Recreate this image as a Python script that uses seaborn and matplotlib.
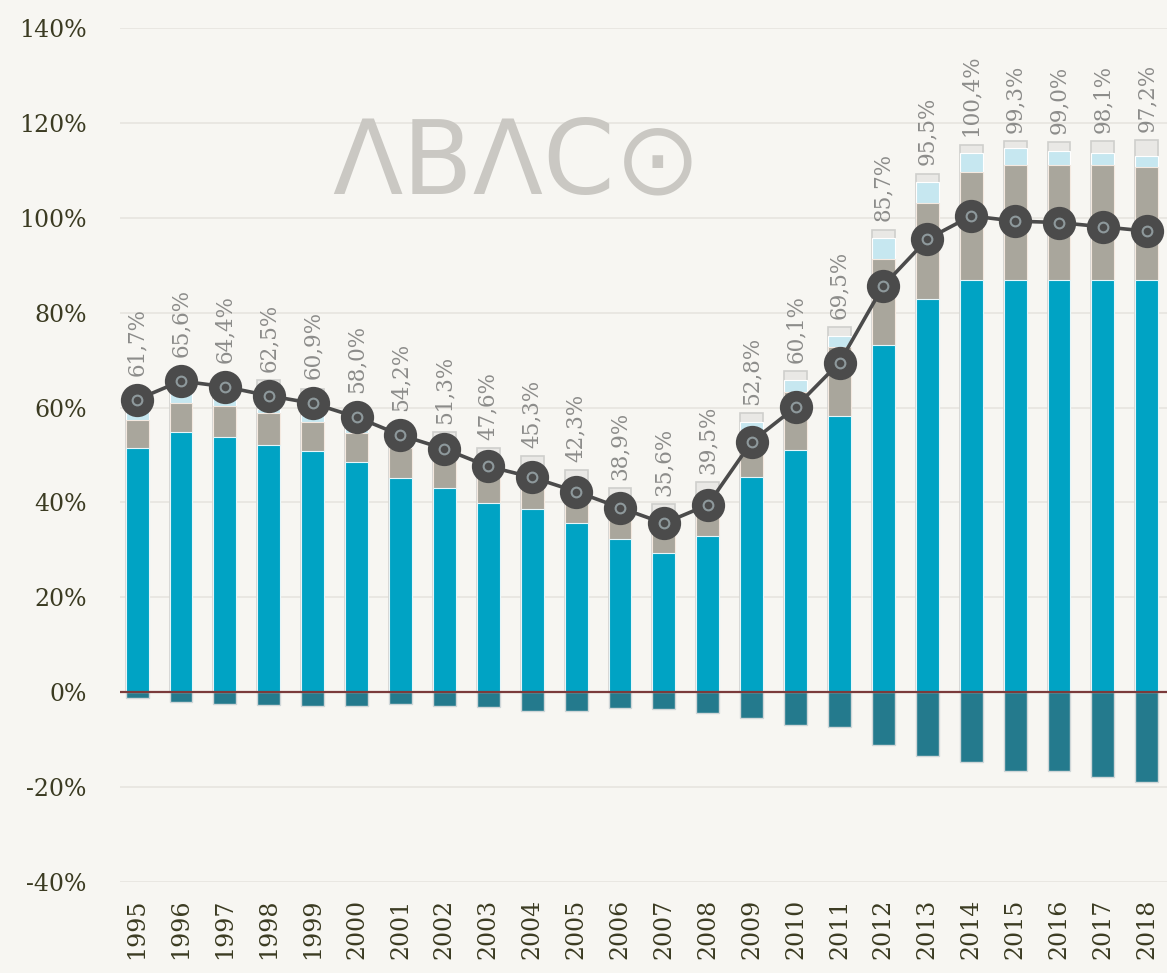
import numpy as np
import pandas as pd
import matplotlib
matplotlib.use("Agg")
import matplotlib.pyplot as plt
import seaborn as sns

# ---------------- data ----------------
years = [str(y) for y in range(1995, 2019)]
line_values = [61.7, 65.6, 64.4, 62.5, 60.9, 58.0, 54.2, 51.3, 47.6, 45.3, 42.3, 38.9,
               35.6, 39.5, 52.8, 60.1, 69.5, 85.7, 95.5, 100.4, 99.3, 99.0, 98.1, 97.2]
line_labels = ["61,7%", "65,6%", "64,4%", "62,5%", "60,9%", "58,0%", "54,2%", "51,3%",
               "47,6%", "45,3%", "42,3%", "38,9%", "35,6%", "39,5%", "52,8%", "60,1%",
               "69,5%", "85,7%", "95,5%", "100,4%", "99,3%", "99,0%", "98,1%", "97,2%"]
seg_blue = [51.5, 54.9, 53.8, 52.1, 50.8, 48.6, 45.1, 43.0, 39.9, 38.6, 35.6, 32.3,
            29.4, 33.0, 45.3, 51.0, 58.3, 73.2, 82.9, 86.9, 86.9, 86.8, 86.8, 86.8]
seg_gray = [5.9, 6.1, 6.6, 6.7, 6.2, 6.0, 6.4, 5.7, 5.7, 6.1, 5.4, 4.7,
            4.2, 5.8, 9.0, 12.3, 14.5, 18.2, 20.3, 22.8, 24.3, 24.4, 24.4, 23.9]
seg_lightblue = [2.6, 2.3, 1.6, 1.0, 1.5, 1.9, 1.5, 1.8, 1.9, 1.8, 2.0, 2.0,
                 1.9, 1.7, 2.7, 2.5, 2.2, 4.4, 4.4, 4.0, 3.6, 2.9, 2.5, 2.3]
seg_lightgray = [1.5, 1.2, 1.0, 6.0, 5.5, 3.5, 2.0, 4.3, 4.0, 3.3, 3.8, 4.0,
                 4.2, 3.8, 1.8, 1.9, 2.0, 1.7, 1.7, 1.7, 1.4, 1.9, 2.5, 3.4]
seg_negative = [-1.3, -2.1, -2.4, -2.7, -2.8, -2.8, -2.4, -2.8, -3.1, -4.0, -4.0, -3.4,
                -3.6, -4.4, -5.5, -7.0, -7.4, -11.2, -13.5, -14.6, -16.7, -16.7, -17.9, -19.0]
ytick_values = [-40, -20, 0, 20, 40, 60, 80, 100, 120, 140]
ytick_labels = ["-40%", "-20%", "0%", "20%", "40%", "60%", "80%", "100%", "120%", "140%"]

# ---------------- style ----------------
BG = "#f7f6f2"
C_BLUE = "#00a3c4"
C_GRAY = "#a9a69c"
C_LBLUE = "#c6e7f0"
C_LGRAY = "#e9e8e5"
C_NEG = "#247a8d"
C_LINE = "#4b4b4b"

sns.set_theme(style="white")
plt.rcParams["font.family"] = ["DejaVu Serif", "DejaVu Sans"]

fig = plt.figure(figsize=(11.67, 9.73), dpi=100, facecolor=BG)
ax = fig.add_axes([0.1028, 0.0935, 0.8972, 0.8777])
ax.set_facecolor(BG)

df = pd.DataFrame({
    "year": years,
    "blue": seg_blue,
    "gray": seg_gray,
    "lblue": seg_lightblue,
    "lgray": seg_lightgray,
    "neg": seg_negative,
    "line": line_values,
})
df["c_gray"] = df["blue"] + df["gray"]
df["c_lblue"] = df["c_gray"] + df["lblue"]
df["c_total"] = df["c_lblue"] + df["lgray"]

# gridlines
for v in ytick_values:
    if v != 0:
        ax.axhline(v, color="#e7e5df", lw=1.2, zorder=0)

W = 0.52
common = dict(data=df, x="year", width=W, saturation=1, ax=ax, zorder=2)
sns.barplot(y="c_total", color=C_LGRAY, edgecolor="#cfcfcc", linewidth=1.2, **common)
sns.barplot(y="c_lblue", color=C_LBLUE, edgecolor="#ffffff", linewidth=0.8, **common)
sns.barplot(y="c_gray", color=C_GRAY, edgecolor="#f4e9e0", linewidth=0.8, **common)
sns.barplot(y="blue", color=C_BLUE, edgecolor="#e6f6fa", linewidth=0.8, **common)
sns.barplot(y="neg", color=C_NEG, edgecolor="#cfd6d8", linewidth=1.0, **common)

# zero line
ax.axhline(0, color="#7b3b3b", lw=1.6, zorder=3)

# line with markers
sns.pointplot(data=df, x="year", y="line", color=C_LINE, markers="o", ax=ax,
              linewidth=2.6, markersize=22, markeredgecolor=C_LINE, zorder=5)
sns.pointplot(data=df, x="year", y="line", color=C_LINE, markers="o", ax=ax,
              linestyles="none", markersize=7, markerfacecolor="none",
              markeredgecolor="#8e999c", markeredgewidth=1.5, zorder=6)

# data labels
for i, (lab, v, tot) in enumerate(zip(line_labels, line_values, df["c_total"])):
    anchor = max(tot, v + 3.3)
    ax.annotate(lab, xy=(i, anchor), xytext=(0, 6), textcoords="offset points",
                rotation=90, ha="center", va="bottom", fontsize=15.5,
                color="#8c8c8a", zorder=7)

# watermark logo
ax.text(0.379, 0.84, "ΛBΛC⊙", transform=ax.transAxes, ha="center", va="center",
        fontsize=74, color="#cac8c3", family=["DejaVu Sans"], zorder=1)

# axes
ax.set_xlim(-0.39, 23.46)
ax.set_ylim(-40, 140)
ax.set_yticks(ytick_values)
ax.set_yticklabels(ytick_labels)
ax.set_xticks(range(len(years)))
ax.set_xticklabels(years, rotation=90)
ax.tick_params(axis="both", length=0, labelsize=17, labelcolor="#3b3b22")
ax.tick_params(axis="y", pad=24)
ax.tick_params(axis="x", pad=12)
ax.set_xlabel("")
ax.set_ylabel("")
for s in ax.spines.values():
    s.set_visible(False)
ax.grid(False)

fig.savefig("out.png", dpi=100, facecolor=BG)
